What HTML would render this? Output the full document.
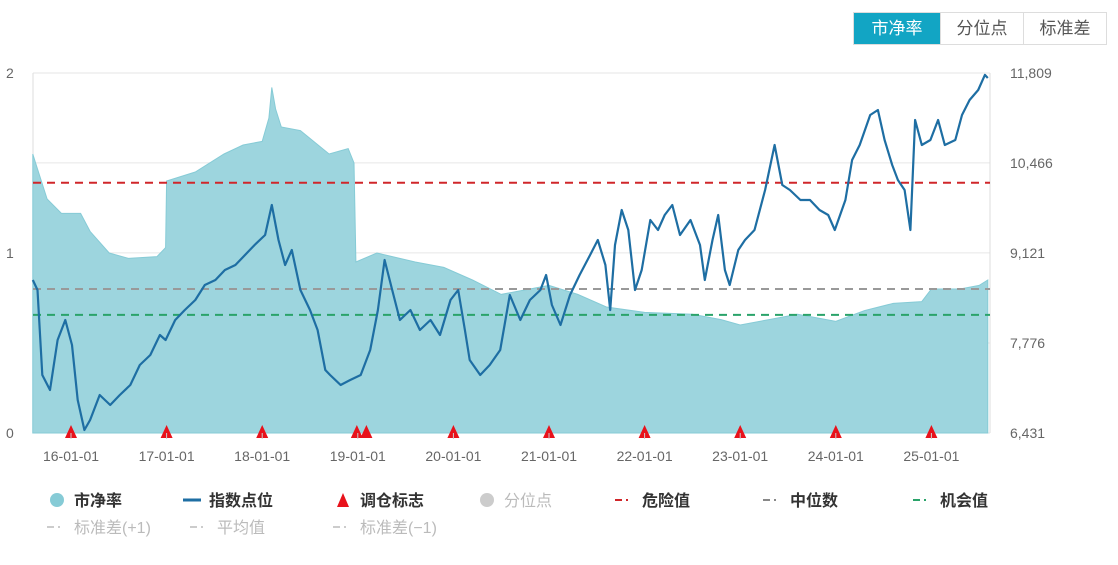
<!DOCTYPE html>
<html><head><meta charset="utf-8"><style>
body{margin:0;background:#fff;width:1118px;height:565px;overflow:hidden;font-family:"Liberation Sans","Noto Sans CJK SC",sans-serif}
.btns{position:absolute;left:853px;top:12px;display:flex;border:1px solid #ddd}
.btn{height:31px;line-height:31px;font-size:17px;color:#555;width:82px;text-align:center;border-left:1px solid #ddd;background:#fff}
.btn.on{background:#12a5c4;color:#fff;border-left:none;width:86px}
</style></head><body>
<div class="btns">
<div class="btn on">市净率</div>
<div class="btn">分位点</div>
<div class="btn">标准差</div>
</div>
<svg id="c" width="1118" height="565" style="position:absolute;left:0;top:0"></svg>
<script>
const pbDates=[2015.6,2015.63,2015.75,2015.9,2016.1,2016.2,2016.4,2016.6,2016.9,2016.99,2017.0,2017.3,2017.6,2017.8,2018.0,2018.07,2018.1,2018.14,2018.2,2018.4,2018.7,2018.9,2018.96,2018.98,2019.2,2019.6,2019.9,2020.2,2020.5,2020.8,2021.0,2021.3,2021.6,2022.0,2022.5,2022.8,2023.0,2023.3,2023.6,2024.0,2024.3,2024.6,2024.9,2025.0,2025.3,2025.5,2025.59];
const pbValues=[1.55,1.5,1.3,1.22,1.22,1.12,1.0,0.97,0.98,1.03,1.4,1.45,1.55,1.6,1.62,1.75,1.92,1.8,1.7,1.68,1.55,1.58,1.5,0.95,1.0,0.95,0.92,0.85,0.77,0.8,0.82,0.77,0.7,0.67,0.66,0.63,0.6,0.63,0.66,0.62,0.68,0.72,0.73,0.8,0.8,0.82,0.85];
const idxDates=[2015.60,2015.65,2015.70,2015.78,2015.86,2015.94,2016.01,2016.07,2016.14,2016.20,2016.30,2016.41,2016.51,2016.62,2016.72,2016.83,2016.93,2016.99,2017.09,2017.19,2017.30,2017.40,2017.51,2017.61,2017.72,2017.82,2017.92,2018.03,2018.10,2018.17,2018.24,2018.31,2018.40,2018.50,2018.58,2018.66,2018.71,2018.82,2018.92,2019.03,2019.13,2019.21,2019.28,2019.36,2019.44,2019.55,2019.65,2019.76,2019.86,2019.97,2020.05,2020.12,2020.17,2020.28,2020.38,2020.49,2020.59,2020.70,2020.80,2020.91,2020.97,2021.03,2021.12,2021.22,2021.32,2021.43,2021.51,2021.59,2021.64,2021.69,2021.76,2021.83,2021.90,2021.97,2022.06,2022.14,2022.21,2022.29,2022.37,2022.48,2022.58,2022.63,2022.71,2022.77,2022.84,2022.89,2022.98,2023.05,2023.15,2023.26,2023.36,2023.44,2023.52,2023.63,2023.73,2023.83,2023.92,2023.99,2024.10,2024.17,2024.25,2024.36,2024.44,2024.51,2024.59,2024.65,2024.72,2024.78,2024.83,2024.90,2024.99,2025.07,2025.14,2025.25,2025.32,2025.40,2025.49,2025.56,2025.59];
const idxValues=[8717,8567,7298,7073,7820,8119,7746,6924,6476,6625,6999,6849,6999,7148,7447,7596,7895,7820,8119,8269,8418,8642,8717,8866,8941,9090,9240,9389,9837,9314,8941,9165,8567,8269,7970,7372,7298,7148,7223,7298,7671,8269,9016,8567,8119,8269,7970,8119,7895,8418,8567,7970,7522,7298,7447,7671,8493,8119,8418,8567,8792,8343,8045,8493,8792,9090,9314,8941,8269,9240,9763,9464,8567,8866,9613,9464,9688,9837,9389,9613,9240,8717,9314,9688,8866,8642,9165,9314,9464,10061,10734,10136,10061,9912,9912,9763,9688,9464,9912,10510,10734,11182,11257,10808,10435,10211,10061,9464,11107,10734,10808,11107,10734,10808,11182,11406,11555,11780,11735];
const tradeDates=[2016.0,2017.0,2018.0,2018.99,2019.09,2020.0,2021.0,2022.0,2023.0,2024.0,2025.0];
const xTicks=[2016,2017,2018,2019,2020,2021,2022,2023,2024,2025];
const xTickLabels=["16-01-01","17-01-01","18-01-01","19-01-01","20-01-01","21-01-01","22-01-01","23-01-01","24-01-01","25-01-01"];
const leftTicks=[0,1,2];
const rightTicks=[6431,7776,9121,10466,11809];
const refDanger=1.39, refMedian=0.8, refChance=0.656;

const X0=33,X1=990,TOP=73,BOT=433;
const xs=d=>71+(d-2016)*95.6;
const yl=v=>BOT-v*(BOT-TOP)/2;
const yr=v=>BOT-(v-6431)*(BOT-TOP)/(11809-6431);
const svg=document.getElementById('c');const NS='http://www.w3.org/2000/svg';
function mk(t,a,p){const e=document.createElementNS(NS,t);for(const k in a)e.setAttribute(k,a[k]);(p||svg).appendChild(e);return e;}
rightTicks.forEach((v,i)=>{const g=mk('line',{x1:X0,x2:X1,y1:yr(v),y2:yr(v),stroke:'#e6e6e6'});

const t=mk('text',{x:1010,y:yr(v)+5,'font-size':14,fill:'#666'});t.textContent=v.toLocaleString('en-US');
});
leftTicks.forEach(v=>{const t=mk('text',{x:6,y:yl(v)+5,'font-size':14,fill:'#666'});t.textContent=v;
});
const ax=mk('line',{x1:X0,x2:X0,y1:TOP,y2:BOT,stroke:'#ddd'});
const ax2=mk('line',{x1:X1,x2:X1,y1:TOP,y2:BOT,stroke:'#ddd'});
let d='M'+xs(pbDates[0])+','+BOT;pbDates.forEach((t,i)=>d+=' L'+xs(t).toFixed(1)+','+yl(pbValues[i]).toFixed(1));d+=' L'+xs(pbDates[pbDates.length-1])+','+BOT+'Z';
const ar=mk('path',{d:d,fill:'#9dd5de',stroke:'#86cbd6','stroke-width':1});
[[refDanger,'#d0262a','danger-line'],[refMedian,'#999','median-line'],[refChance,'#2aa36a','chance-line']].forEach(r=>{
const l=mk('line',{x1:X0,x2:X1,y1:yl(r[0]),y2:yl(r[0]),stroke:r[1],'stroke-width':2,'stroke-dasharray':'8,6'});
});
let p='';idxDates.forEach((t,i)=>p+=(i?' L':'M')+xs(t).toFixed(1)+','+yr(idxValues[i]).toFixed(1));
const il=mk('path',{d:p,fill:'none',stroke:'#1e6ea3','stroke-width':2.2,'stroke-linejoin':'round'});
tradeDates.forEach(t=>{const x=xs(t);const tr=mk('polygon',{points:`${x-6},${BOT+5} ${x+6},${BOT+5} ${x},${BOT-8}`,fill:'#e8121b'});
});
xTicks.forEach((t,i)=>{const x=xs(t);const tl=mk('line',{x1:x,x2:x,y1:BOT,y2:BOT+6,stroke:'#ccc'});

const tx=mk('text',{x:x,y:461,'font-size':14,fill:'#666','text-anchor':'middle'});tx.textContent=xTickLabels[i];
});
function leg(name,x,y,sym,color,label,tc){const g=mk('g',{});
if(sym==='c')mk('circle',{cx:x,cy:y,r:7,fill:color},g);
else if(sym==='l')mk('line',{x1:x-9,x2:x+9,y1:y,y2:y,stroke:color,'stroke-width':3},g);
else if(sym==='t')mk('polygon',{points:`${x-6},${y+7} ${x+6},${y+7} ${x},${y-7}`,fill:color},g);
else {mk('line',{x1:x-10,x2:x-3,y1:y,y2:y,stroke:color,'stroke-width':2},g);mk('line',{x1:x+1,x2:x+3,y1:y,y2:y,stroke:color,'stroke-width':2},g);}
const t=mk('text',{x:x+17,y:y+6,'font-size':16,fill:tc,'font-weight':tc==='#333'?'bold':'normal'},g);t.textContent=label;}
leg('legend-pb',57,500,'c','#86cbd6','市净率','#333');
leg('legend-index',192,500,'l','#1e6ea3','指数点位','#333');
leg('legend-rebalance',343,500,'t','#e8121b','调仓标志','#333');
leg('legend-percentile',487,500,'c','#ccc','分位点','#bbb');
leg('legend-danger',625,500,'d','#d0262a','危险值','#333');
leg('legend-median',773,500,'d','#888','中位数','#333');
leg('legend-chance',923,500,'d','#2aa36a','机会值','#333');
leg('legend-std-plus',57,527,'d','#ccc','标准差(+1)','#bbb');
leg('legend-mean',200,527,'d','#ccc','平均值','#bbb');
leg('legend-std-minus',343,527,'d','#ccc','标准差(−1)','#bbb');
</script>
</body></html>
